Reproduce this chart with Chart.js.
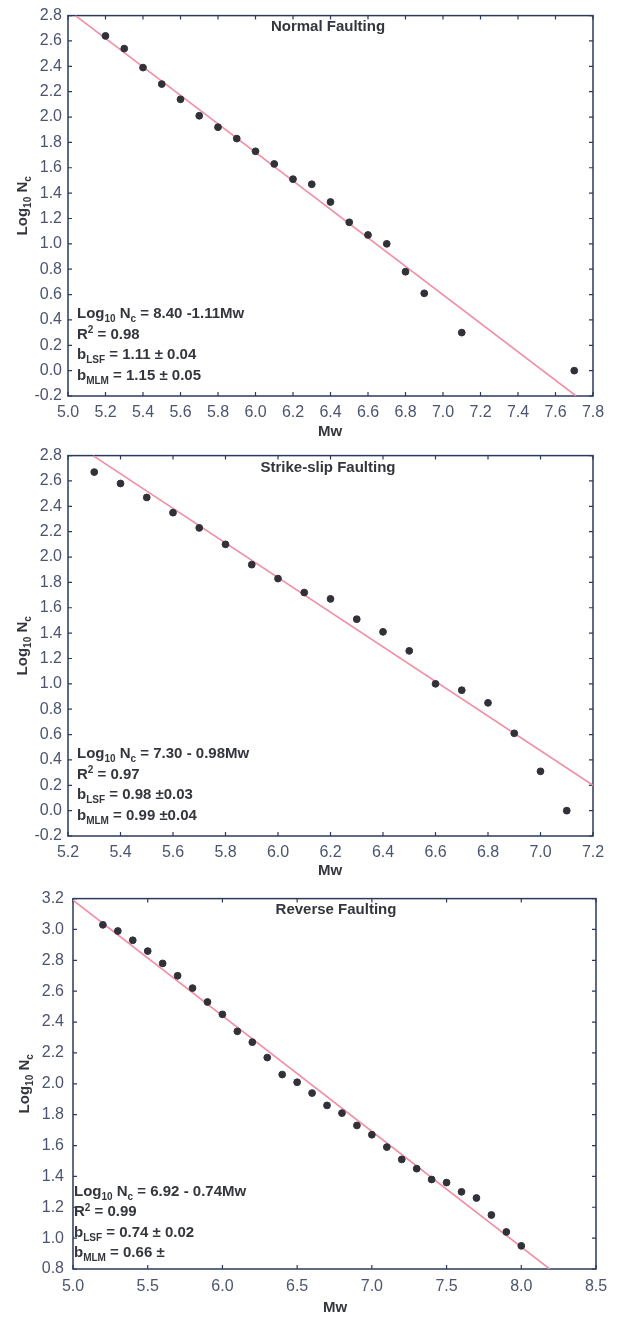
<!DOCTYPE html>
<html><head><meta charset="utf-8">
<script src="https://cdn.jsdelivr.net/npm/chart.js@4/dist/chart.umd.min.js"></script>
<style>
html,body{margin:0;padding:0;background:#fff;}
body{width:618px;height:1318px;position:relative;overflow:hidden;}
canvas{position:absolute;left:0;}
</style></head><body>
<canvas id="c1" width="618" height="440" style="top:0px"></canvas>
<canvas id="c2" width="618" height="440" style="top:440px"></canvas>
<canvas id="c3" width="618" height="438" style="top:880px"></canvas>
<script>
// ---------- Normal Faulting ----------
const nfMw    = [5.2,5.3,5.4,5.5,5.6,5.7,5.8,5.9,6.0,6.1,6.2,6.3,6.4,6.5,6.6,6.7,6.8,6.9,7.1,7.7];
const nfLogNc = [2.64,2.54,2.39,2.26,2.14,2.01,1.92,1.83,1.73,1.63,1.51,1.47,1.33,1.17,1.07,1.00,0.78,0.61,0.30,0.00];
const nfFitMw = [5.04, 7.71];
const nfFitLogNc = [2.80, -0.20];
const nfXTicks = [5.0,5.2,5.4,5.6,5.8,6.0,6.2,6.4,6.6,6.8,7.0,7.2,7.4,7.6,7.8];
const nfYTicks = [-0.2,0.0,0.2,0.4,0.6,0.8,1.0,1.2,1.4,1.6,1.8,2.0,2.2,2.4,2.6,2.8];
const nfNotes = ["Log_{10} N_{c} = 8.40 -1.11Mw", "R^{2} = 0.98", "b_{LSF} = 1.11 ± 0.04", "b_{MLM} = 1.15 ± 0.05"];

// ---------- Strike-slip Faulting ----------
const ssMw    = [5.3,5.4,5.5,5.6,5.7,5.8,5.9,6.0,6.1,6.2,6.3,6.4,6.5,6.6,6.7,6.8,6.9,7.0,7.1];
const ssLogNc = [2.67,2.58,2.47,2.35,2.23,2.10,1.94,1.83,1.72,1.67,1.51,1.41,1.26,1.00,0.95,0.85,0.61,0.31,0.00];
const ssFitMw = [5.295, 7.20];
const ssFitLogNc = [2.80, 0.20];
const ssXTicks = [5.2,5.4,5.6,5.8,6.0,6.2,6.4,6.6,6.8,7.0,7.2];
const ssYTicks = [-0.2,0.0,0.2,0.4,0.6,0.8,1.0,1.2,1.4,1.6,1.8,2.0,2.2,2.4,2.6,2.8];
const ssNotes = ["Log_{10} N_{c} = 7.30 - 0.98Mw", "R^{2} = 0.97", "b_{LSF} = 0.98 ±0.03", "b_{MLM} = 0.99 ±0.04"];

// ---------- Reverse Faulting ----------
const rfMw    = [5.2,5.3,5.4,5.5,5.6,5.7,5.8,5.9,6.0,6.1,6.2,6.3,6.4,6.5,6.6,6.7,6.8,6.9,7.0,7.1,7.2,7.3,7.4,7.5,7.6,7.7,7.8,7.9,8.0];
const rfLogNc = [3.03,2.99,2.93,2.86,2.78,2.70,2.62,2.53,2.45,2.34,2.27,2.17,2.06,2.01,1.94,1.86,1.81,1.73,1.67,1.59,1.51,1.45,1.38,1.36,1.30,1.26,1.15,1.04,0.95];
const rfFitMw = [5.00, 8.19];
const rfFitLogNc = [3.19, 0.80];
const rfXTicks = [5.0,5.5,6.0,6.5,7.0,7.5,8.0,8.5];
const rfYTicks = [0.8,1.0,1.2,1.4,1.6,1.8,2.0,2.2,2.4,2.6,2.8,3.0,3.2];
const rfNotes = ["Log_{10} N_{c} = 6.92 - 0.74Mw", "R^{2} = 0.99", "b_{LSF} = 0.74 ± 0.02", "b_{MLM} = 0.66 ±"];

const FONT = "'Liberation Sans', Arial, sans-serif";
const TEXT = '#33363d';
const AXIS = '#2b3a5c';
const TICKTXT = '#4b5470';

function parseRich(s){
  const out=[]; const re=/([_^])\{([^}]*)\}/g; let last=0, m;
  while((m=re.exec(s))){ if(m.index>last) out.push({t:s.slice(last,m.index),k:0}); out.push({t:m[2],k:m[1]==='_'?1:2}); last=re.lastIndex; }
  if(last<s.length) out.push({t:s.slice(last),k:0});
  return out;
}
function richWidth(ctx,s,size){
  let w=0; for(const p of parseRich(s)){ ctx.font='bold '+(p.k?Math.round(size*0.68):size)+'px '+FONT; w+=ctx.measureText(p.t).width; } return w;
}
function drawRich(ctx,s,x,y,size){
  ctx.textBaseline='alphabetic'; ctx.textAlign='left';
  for(const p of parseRich(s)){
    const sz = p.k? Math.round(size*0.68) : size;
    ctx.font='bold '+sz+'px '+FONT;
    const dy = p.k===1 ? size*0.28 : (p.k===2 ? -size*0.38 : 0);
    ctx.fillText(p.t,x,y+dy);
    x+=ctx.measureText(p.t).width;
  }
}

const framePlugin = {
  id:'frame',
  beforeDatasetsDraw(chart,args,o){
    const {ctx, chartArea:a, scales:{x,y}} = chart;
    ctx.save();
    ctx.strokeStyle=AXIS; ctx.lineWidth=1.5;
    ctx.strokeRect(a.left,a.top,a.right-a.left,a.bottom-a.top);
    ctx.lineWidth=1.2; ctx.beginPath();
    x.ticks.forEach(t=>{const p=x.getPixelForValue(t.value); ctx.moveTo(p,a.bottom); ctx.lineTo(p,a.bottom-4); ctx.moveTo(p,a.top); ctx.lineTo(p,a.top+4);});
    y.ticks.forEach(t=>{const p=y.getPixelForValue(t.value); ctx.moveTo(a.left,p); ctx.lineTo(a.left+4,p); ctx.moveTo(a.right,p); ctx.lineTo(a.right-4,p);});
    ctx.stroke();
    ctx.restore();
  },
  afterDraw(chart,args,o){
    const {ctx, chartArea:a} = chart;
    ctx.save();
    ctx.fillStyle=TEXT;
    ctx.font='bold 15px '+FONT; ctx.textAlign='center'; ctx.textBaseline='middle';
    ctx.fillText(o.title,o.titleX,o.titleY);
    ctx.fillText('Mw',o.mwX,o.mwY);
    o.notes.forEach((s,i)=>drawRich(ctx,s,o.noteX,o.noteY+i*o.noteDy+5,15));
    ctx.save();
    ctx.translate(o.yTitleX,(a.top+a.bottom)/2);
    ctx.rotate(-Math.PI/2);
    const lbl='Log_{10} N_{c}';
    const w=richWidth(ctx,lbl,15);
    drawRich(ctx,lbl,-w/2,5,15);
    ctx.restore();
    ctx.restore();
  }
};

function makeChart(id, mw, logNc, fitMw, fitLog, xTicks, yTicks, geom, frameOpts){
  const pts = mw.map((v,i)=>({x:v,y:logNc[i]}));
  const fit = fitMw.map((v,i)=>({x:v,y:fitLog[i]}));
  return new Chart(document.getElementById(id),{
    type:'scatter',
    data:{datasets:[
      {type:'scatter', data:pts, backgroundColor:'#303238', borderColor:'#303238', pointRadius:3.4, pointHoverRadius:3.4, order:0},
      {type:'line', data:fit, borderColor:'#f28fa5', borderWidth:1.6, pointRadius:0, showLine:true, fill:false, order:1}
    ]},
    options:{
      responsive:false, animation:false, devicePixelRatio:1,
      layout:{padding:{top:geom.top, right:geom.right, left:0, bottom:0}},
      plugins:{legend:{display:false}, tooltip:{enabled:false}, frame:frameOpts},
      scales:{
        x:{type:'linear', min:xTicks[0], max:xTicks[xTicks.length-1],
           afterBuildTicks:s=>{s.ticks=xTicks.map(v=>({value:v}));},
           afterFit:s=>{s.height=geom.xh;},
           grid:{display:false, drawTicks:false}, border:{display:false},
           ticks:{padding:geom.xpad, maxRotation:0, autoSkip:false, color:TICKTXT, font:{family:FONT,size:16}, callback:v=>Number(v).toFixed(1)}},
        y:{type:'linear', min:yTicks[0], max:yTicks[yTicks.length-1],
           afterBuildTicks:s=>{s.ticks=yTicks.map(v=>({value:v}));},
           afterFit:s=>{s.width=geom.left;},
           grid:{display:false, drawTicks:false}, border:{display:false},
           ticks:{padding:geom.ypad, autoSkip:false, color:TICKTXT, font:{family:FONT,size:16}, callback:v=>Number(v).toFixed(1)}}
      }
    },
    plugins:[framePlugin]
  });
}

makeChart('c1', nfMw, nfLogNc, nfFitMw, nfFitLogNc, nfXTicks, nfYTicks,
  {top:13,right:25,left:68,xh:44,xpad:7,ypad:6},
  {title:'Normal Faulting', titleX:328, titleY:27, mwX:330, mwY:432, notes:nfNotes, noteX:77, noteY:313, noteDy:20.5, yTitleX:22});
makeChart('c2', ssMw, ssLogNc, ssFitMw, ssFitLogNc, ssXTicks, ssYTicks,
  {top:13,right:25,left:68,xh:44,xpad:7,ypad:6},
  {title:'Strike-slip Faulting', titleX:328, titleY:28, mwX:330, mwY:431, notes:ssNotes, noteX:77, noteY:313, noteDy:20.5, yTitleX:22});
makeChart('c3', rfMw, rfLogNc, rfFitMw, rfFitLogNc, rfXTicks, rfYTicks,
  {top:12,right:22,left:73,xh:49,xpad:8,ypad:9},
  {title:'Reverse Faulting', titleX:336, titleY:30, mwX:335, mwY:428, notes:rfNotes, noteX:74, noteY:311, noteDy:20.3, yTitleX:24});
</script>
</body></html>
